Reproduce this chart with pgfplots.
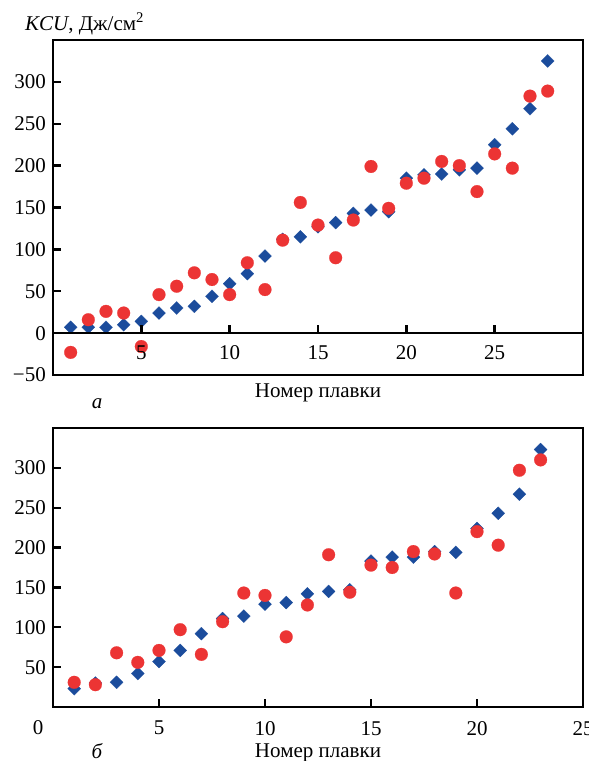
\documentclass[border=0pt]{standalone}
\usepackage{fontspec}
\setmainfont{Liberation Serif}
\usepackage{pgfplots}
\pgfplotsset{compat=1.18}
\definecolor{kcublue}{HTML}{1B4C9C}
\definecolor{kcured}{HTML}{EC3434}

\pgfplotsset{kcu/.style={scale only axis,width=530bp,xmin=0,clip=false,
  axis line style={line width=2.6bp},
  every tick/.style={line width=2.4bp,black},major tick length=8bp,tick align=inside,
  /pgf/number format/assume math mode=true,
  tick label style={font=\fontsize{21bp}{25bp}\selectfont},
  xticklabel style={yshift=-5bp}},
  kblue/.style={only marks,color=kcublue,mark=square*,mark size=4.6bp,
    mark options={rotate=45,draw=kcublue,fill=kcublue,line width=0.2bp}},
  kred/.style={only marks,color=kcured,mark=*,mark size=6.4bp,
    mark options={draw=kcured,fill=kcured,line width=0.2bp}}}

\begin{document}
\fontsize{21bp}{25bp}\selectfont
\begin{tikzpicture}
\useasboundingbox (0bp,0bp) rectangle (589bp,-761bp);

% panel a: data, frame and y axis
\begin{axis}[kcu,at={(53bp,-40bp)},anchor=north west,height=335bp,
  xmax=30,ymin=-50,ymax=350,
  axis x line=none,axis y line*=left,
  ytick={-50,0,...,300},
  yticklabels={−50,0,50,100,150,200,250,300}]
\addplot[kblue] coordinates {(1,7) (2,7) (3,7) (4,10) (5,14) (6,24) (7,30) (8,32) (9,44) (10,59) (11,71) (12,92) (13,112) (14,115) (15,127) (16,132) (17,143) (18,147) (19,145) (20,185) (21,189) (22,190) (23,195) (24,197) (25,225) (26,244) (27,268) (28,325)};
\addplot[kred] coordinates {(1,-23) (2,16) (3,26) (4,24) (5,-16) (6,46) (7,56) (8,72) (9,64) (10,46) (11,84) (12,52) (13,111) (14,156) (15,129) (16,90) (17,135) (18,199) (19,149) (20,179) (21,185) (22,205) (23,200) (24,169) (25,214) (26,197) (27,283) (28,289)};
\draw[line width=2.6bp] (rel axis cs:0,0) rectangle (rel axis cs:1,1);
\end{axis}
% panel a: zero line with its ticks, drawn over the marks
\begin{axis}[kcu,at={(53bp,-40bp)},anchor=north west,height=335bp,
  xmax=30,ymin=-50,ymax=350,
  axis x line*=middle,axis y line=none,
  xtick={5,10,...,25}]
\end{axis}

% panel b
\begin{axis}[kcu,at={(53bp,-428bp)},anchor=north west,height=279bp,
  xmax=25,ymin=0,ymax=350,axis on top,
  xtick={5,10,...,25},ytick={50,100,...,300},
  xtick pos=bottom,ytick pos=left,xticklabel style={yshift=-2bp}]
\addplot[kblue] coordinates {(1,23) (2,30) (3,31) (4,42) (5,57) (6,71) (7,92) (8,111) (9,114) (10,129) (11,131) (12,142) (13,145) (14,147) (15,183) (16,188) (17,188) (18,195) (19,194) (20,224) (21,243) (22,267) (23,323)};
\addplot[kred] coordinates {(1,31) (2,28) (3,68) (4,56) (5,71) (6,97) (7,66) (8,107) (9,143) (10,140) (11,88) (12,128) (13,191) (14,144) (15,178) (16,175) (17,195) (18,192) (19,143) (20,220) (21,203) (22,297) (23,310)};
\draw[line width=2.6bp] (rel axis cs:0,0) rectangle (rel axis cs:1,1);
\end{axis}

\node[anchor=base west,inner sep=0] at (25bp,-30bp) {\itshape KCU\upshape, Дж/см\textsuperscript{2}};
\node[anchor=base] at (318bp,-397bp) {Номер плавки};
\node[anchor=base] at (97bp,-408bp) {\itshape а};
\node[anchor=base] at (318bp,-757bp) {Номер плавки};
\node[anchor=base] at (97bp,-758bp) {\itshape б};
\node[anchor=base] at (38bp,-734bp) {0};
\end{tikzpicture}
\end{document}
